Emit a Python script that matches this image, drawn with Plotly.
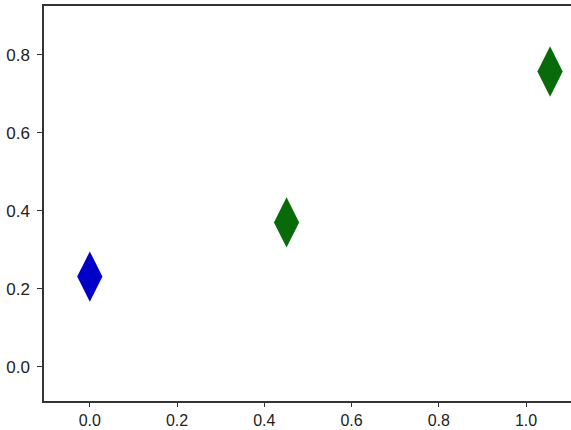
import plotly.graph_objects as go

# data
x_blue = [0.0]
y_blue = [0.231]
x_green = [0.451, 1.055]
y_green = [0.370, 0.757]
x_ticks = [0.0, 0.2, 0.4, 0.6, 0.8, 1.0]
y_ticks = [0.0, 0.2, 0.4, 0.6, 0.8]

fig = go.Figure()
fig.add_trace(go.Scatter(x=x_blue, y=y_blue, mode="markers",
                         marker=dict(symbol="diamond-tall", size=36, color="#0000c8",
                                     line=dict(width=0))))
fig.add_trace(go.Scatter(x=x_green, y=y_green, mode="markers",
                         marker=dict(symbol="diamond-tall", size=36, color="#086a08",
                                     line=dict(width=0))))

axis_common = dict(showgrid=False, zeroline=False, showline=True, linecolor="#333333",
                   linewidth=1.5, ticks="outside", tickcolor="#333333",
                   automargin=False)

fig.update_layout(
    width=571, height=430,
    margin=dict(l=44, r=0, t=6, b=29),
    paper_bgcolor="white", plot_bgcolor="white",
    showlegend=False,
    xaxis=dict(range=[-0.105, 1.103], tickvals=x_ticks,
               ticktext=[f"{v:.1f}" for v in x_ticks], mirror=True,
               ticklen=4, ticklabelstandoff=0,
               tickfont=dict(family="Liberation Sans", size=16, color="#222222"),
               **axis_common),
    yaxis=dict(range=[-0.088, 0.925], tickvals=y_ticks,
               ticktext=[f"{v:.1f}" for v in y_ticks], ticklen=5, ticklabelstandoff=4,
               tickfont=dict(family="Liberation Sans", size=17, color="#222222"),
               **axis_common),
)

fig.write_html("out.html")
